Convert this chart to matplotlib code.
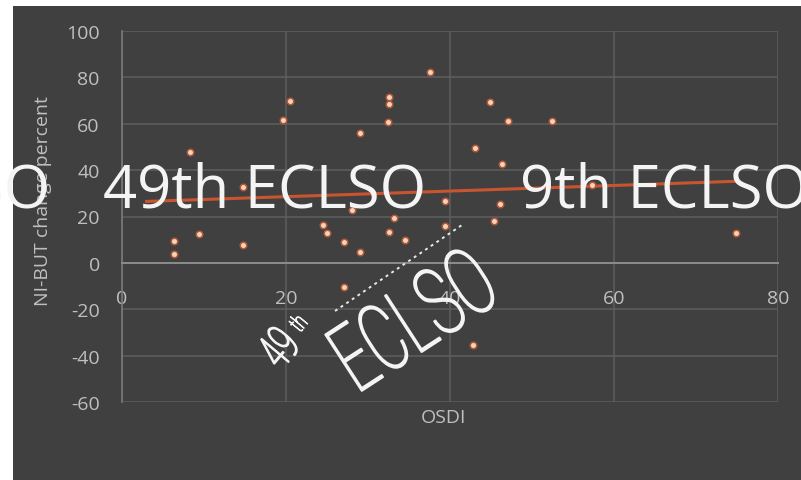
import matplotlib.pyplot as plt
import matplotlib.patheffects as pe
from matplotlib.transforms import Affine2D
from matplotlib.lines import Line2D
from matplotlib.patches import Rectangle

plt.rcParams['axes.unicode_minus'] = False

# values
osdi = [20.5, 19.6, 8.3, 14.7, 9.4, 6.3, 6.3, 14.7, 37.6, 32.5, 32.5, 32.4,
        29.0, 44.9, 43.1, 39.4, 33.2, 24.5, 25.0, 27.1, 29.0, 32.6, 34.5, 39.4,
        45.4, 46.1, 46.3, 47.1, 52.4, 57.3, 74.9, 27.1, 42.8, 28.0]
nibut = [70, 61.6, 47.7, 32.6, 12.5, 9.4, 3.8, 7.8, 82.2, 71.4, 68.5, 60.6,
         56, 69.3, 49.4, 26.6, 19.5, 16.4, 12.9, 9.2, 4.6, 13.2, 9.9, 16.1,
         18.0, 25.2, 42.7, 61.3, 61.3, 33.8, 13.0, -10.5, -35.6, 23.0]
trend_x = [3, 75]
trend_y = [26.5, 35.2]
x_ticks = [0, 20, 40, 60, 80]
y_ticks = [-60, -40, -20, 0, 20, 40, 60, 80, 100]

W, H = 801, 481


def fx(px):
    return px / W


def fy(py):
    return 1 - py / H


# squeeze glyphs horizontally (condensed logo font), with a thin outline to thicken strokes
class Squeeze(pe.AbstractPathEffect):
    def __init__(self, sx, lw=0):
        super().__init__()
        self.sx = sx
        self.lw = lw

    def draw_path(self, renderer, gc, tpath, affine, rgbFace=None):
        gc0 = renderer.new_gc()
        gc0.copy_properties(gc)
        if self.lw:
            gc0.set_linewidth(self.lw)
            gc0.set_foreground(rgbFace)
        renderer.draw_path(gc0, tpath, Affine2D().scale(self.sx, 1) + affine, rgbFace)
        gc0.restore()


fig = plt.figure(figsize=(8.01, 4.81), dpi=100, facecolor='white')
fig.add_artist(Rectangle((fx(13), 0), 1 - fx(13), fy(7), transform=fig.transFigure,
                         facecolor='#404040', edgecolor='none', zorder=0))

ax = fig.add_axes([fx(122), fy(403), fx(778) - fx(122), fy(32) - fy(403)])
ax.set_facecolor('none')
ax.set_xlim(0, 80)
ax.set_ylim(-60, 100)
ax.set_xticks(x_ticks)
ax.set_yticks(y_ticks)
ax.grid(True, color='#5c5c5c', lw=1.2)
ax.set_axisbelow(True)
for s in ['top', 'right']:
    ax.spines[s].set_visible(False)
ax.spines['bottom'].set_position(('data', 0))
ax.spines['bottom'].set_color('#8c8c8c')
ax.spines['bottom'].set_linewidth(1.4)
ax.spines['left'].set_color('#7a7a7a')
ax.spines['left'].set_linewidth(1.2)
ax.tick_params(length=0, colors='#bfbfbf', labelsize=14)
ax.tick_params(axis='x', pad=19)
ax.tick_params(axis='y', pad=16)
for lab in ax.get_xticklabels() + ax.get_yticklabels():
    lab.set_family(['Open Sans', 'DejaVu Sans'])

ax.set_xlabel('OSDI', color='#bfbfbf', fontsize=14, family=['Open Sans', 'DejaVu Sans'])
ax.xaxis.set_label_coords(0.49, -0.015)
ax.set_ylabel('NI-BUT change percent', color='#bfbfbf', fontsize=14,
              family=['Open Sans', 'DejaVu Sans'])
ax.yaxis.set_label_coords(-0.107, 0.545)

ax.plot(trend_x, trend_y, color='#c8552f', lw=2.2, zorder=2)
ax.scatter(osdi, nibut, s=22, c='#f6d4bc', edgecolors='#b0583a', linewidths=1.1, zorder=3)

# watermark
wm = dict(color='#f4f4f4', fontsize=43, family=['Open Sans', 'DejaVu Sans'],
          va='baseline', zorder=5)
fig.text(fx(50), fy(207), '49th ECLSO', ha='right', **wm)
fig.text(fx(103), fy(207), '49th ECLSO', ha='left', **wm)
fig.text(fx(520), fy(207), '9th ECLSO', ha='left', **wm)

logo = dict(color='#f4f4f4', family=['Roboto', 'DejaVu Sans'], fontweight='light',
            ha='left', va='baseline', rotation_mode='anchor', zorder=6)
fig.text(fx(281), fy(372), '49', fontsize=36, rotation=50,
         path_effects=[Squeeze(0.6, 1.2)], **logo)
fig.text(fx(300), fy(334), 'th', fontsize=17, rotation=50,
         path_effects=[Squeeze(0.65, 0.8)], **logo)
fig.text(fx(357), fy(395), 'ECLSO', fontsize=68, rotation=33,
         path_effects=[Squeeze(0.62, 1.4)], **logo)
fig.add_artist(Line2D([fx(335), fx(462)], [fy(312), fy(226)], transform=fig.transFigure,
                      color='#e8e8e8', lw=1.4, ls=(0, (1.5, 2.0)), zorder=6))

fig.savefig('out.png', dpi=100, facecolor=fig.get_facecolor())
